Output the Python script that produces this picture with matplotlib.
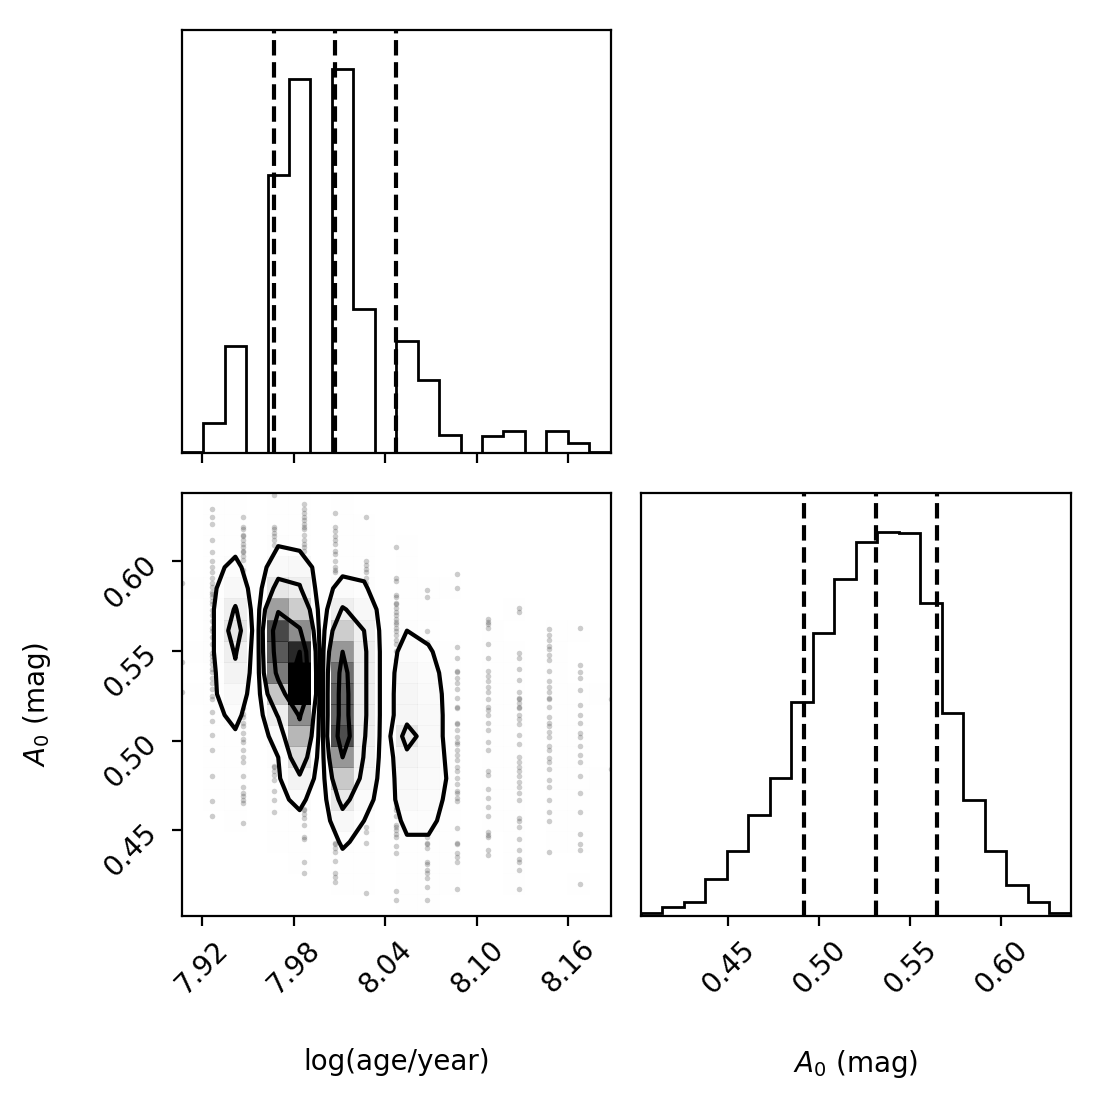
import numpy as np
import matplotlib
matplotlib.use("Agg")
import matplotlib.pyplot as plt
from matplotlib.colors import LinearSegmentedColormap

# sampled range of each parameter (= axis limits)
age_range = [7.9064, 8.1877]
a0_range = [0.4022, 0.6380]

age_ticks = [7.92, 7.98, 8.04, 8.10, 8.16]
a0_ticks = [0.45, 0.50, 0.55, 0.60]

# 1d histograms, 20 bins each
age_counts = [2, 40, 140, 0, 361, 487, 0, 500, 187, 0,
              146, 95, 24, 0, 22, 29, 0, 29, 14, 2]
a0_counts = [2, 6, 9, 25, 44, 68, 93, 144, 191, 227,
             252, 259, 258, 211, 137, 78, 44, 21, 9, 2]

# 16 / 50 / 84 percent quantiles
age_quantiles = [7.9667, 8.0069, 8.0471]
a0_quantiles = [0.4918, 0.5311, 0.5646]

# log(age) grid values the samples sit on
age_grid = [7.9064, 7.9265, 7.9466, 7.9667, 7.9868, 8.0069, 8.0270, 8.0471,
            8.0671, 8.0872, 8.1073, 8.1274, 8.1475, 8.1676, 8.1877]

# visible sample points (A0) for each age grid value
dots_k00 = [0.588, 0.544, 0.527]
dots_k01 = [0.629, 0.625, 0.621, 0.612, 0.605, 0.600, 0.597, 0.594, 0.591, 0.588,
            0.586, 0.583, 0.582, 0.580, 0.578, 0.576, 0.573, 0.570, 0.567, 0.563,
            0.561, 0.558, 0.554, 0.549, 0.547, 0.545, 0.543, 0.540, 0.538, 0.535,
            0.532, 0.529, 0.525, 0.523, 0.516, 0.511, 0.503, 0.495, 0.480, 0.466, 0.458]
dots_k02 = [0.625, 0.619, 0.618, 0.615, 0.614, 0.612, 0.610, 0.608, 0.606, 0.605,
            0.603, 0.601, 0.595, 0.590, 0.585, 0.580, 0.575, 0.570,
            0.524, 0.521, 0.518, 0.515, 0.513, 0.510, 0.508, 0.504, 0.501, 0.499,
            0.495, 0.491, 0.488, 0.480, 0.474, 0.471, 0.469, 0.467, 0.465, 0.454]
dots_k03 = [0.637, 0.619, 0.618, 0.616, 0.614, 0.612, 0.609, 0.486, 0.485, 0.483,
            0.481, 0.478, 0.472, 0.467, 0.460]
dots_k04 = [0.632, 0.629, 0.627, 0.625, 0.623, 0.621, 0.619, 0.618, 0.615, 0.612,
            0.610, 0.608, 0.606, 0.462, 0.461, 0.459, 0.457, 0.453, 0.446, 0.445,
            0.432, 0.426]
dots_k05 = [0.627, 0.619, 0.617, 0.614, 0.612, 0.610, 0.606, 0.604, 0.600, 0.597,
            0.595, 0.594, 0.443, 0.442, 0.440, 0.438, 0.433, 0.426, 0.424, 0.421]
dots_k06 = [0.625, 0.600, 0.598, 0.596, 0.594, 0.591, 0.588, 0.584, 0.580, 0.577,
            0.475, 0.471, 0.467, 0.463, 0.460, 0.452, 0.449, 0.443, 0.415]
dots_k07 = [0.608, 0.591, 0.589, 0.581, 0.580, 0.577, 0.576, 0.574, 0.572, 0.570,
            0.568, 0.566, 0.565, 0.563, 0.561, 0.559, 0.556, 0.554, 0.550, 0.545,
            0.540, 0.535, 0.530, 0.525, 0.471, 0.469, 0.467, 0.465, 0.463, 0.461,
            0.458, 0.453, 0.452, 0.450, 0.448, 0.446, 0.441, 0.437, 0.416, 0.411]
dots_k08 = [0.584, 0.580, 0.561, 0.555, 0.553, 0.552, 0.549, 0.446, 0.443, 0.442,
            0.440, 0.432, 0.431, 0.428, 0.426, 0.423, 0.418, 0.411]
dots_k09 = [0.593, 0.585, 0.552, 0.546, 0.539, 0.538, 0.535, 0.532, 0.529, 0.524,
            0.519, 0.518, 0.510, 0.509, 0.506, 0.502, 0.499, 0.498, 0.495, 0.492,
            0.489, 0.485, 0.483, 0.479, 0.476, 0.472, 0.471, 0.468, 0.466, 0.451,
            0.443, 0.442, 0.437, 0.435, 0.432, 0.417]
dots_k10 = [0.568, 0.566, 0.565, 0.563, 0.554, 0.546, 0.539, 0.536, 0.533, 0.530,
            0.527, 0.523, 0.519, 0.517, 0.514, 0.510, 0.506, 0.499, 0.495, 0.483,
            0.481, 0.473, 0.468, 0.463, 0.458, 0.449, 0.447, 0.446, 0.439, 0.436]
dots_k11 = [0.574, 0.572, 0.549, 0.546, 0.540, 0.534, 0.527, 0.524, 0.523, 0.521,
            0.519, 0.518, 0.514, 0.512, 0.509, 0.503, 0.498, 0.491, 0.488, 0.485,
            0.483, 0.480, 0.477, 0.474, 0.471, 0.467, 0.457, 0.455, 0.452, 0.445,
            0.439, 0.434, 0.432, 0.428, 0.417]
dots_k12 = [0.562, 0.559, 0.556, 0.553, 0.551, 0.548, 0.545, 0.539, 0.533, 0.530,
            0.527, 0.524, 0.523, 0.519, 0.513, 0.510, 0.508, 0.505, 0.502, 0.497,
            0.495, 0.490, 0.488, 0.484, 0.478, 0.474, 0.467, 0.460, 0.455, 0.438]
dots_k13 = [0.563, 0.542, 0.538, 0.535, 0.528, 0.520, 0.514, 0.510, 0.504, 0.502,
            0.497, 0.492, 0.488, 0.480, 0.471, 0.460, 0.448, 0.442, 0.439, 0.420]
dots_k14 = [0.523, 0.484]

# 2d histogram: counts in each A0 bin (low -> high) for the non-empty age bins
h2d_c00 = [0, 0, 0, 0, 0, 0, 0, 0, 0, 0, 1, 0, 1, 0, 0, 1, 0, 0, 0, 0]
h2d_c01 = [0, 0, 0, 0, 0, 1, 2, 2, 2, 3, 4, 4, 5, 5, 5, 4, 3, 2, 2, 1]
h2d_c02 = [0, 0, 0, 0, 1, 2, 3, 4, 4, 7, 11, 15, 18, 23, 18, 12, 7, 3, 2, 1]
h2d_c04 = [0, 0, 0, 1, 2, 3, 4, 5, 9, 18, 34, 52, 58, 61, 44, 22, 11, 5, 3, 2]
h2d_c05 = [0, 0, 1, 2, 3, 7, 15, 26, 38, 48, 72, 72, 66, 48, 32, 18, 12, 3, 2, 2]
h2d_c07 = [0, 1, 3, 6, 12, 21, 33, 46, 60, 56, 56, 54, 46, 32, 18, 9, 2, 1, 1, 1]
h2d_c08 = [0, 1, 1, 3, 5, 9, 13, 16, 18, 19, 19, 19, 19, 17, 12, 6, 3, 2, 1, 0]
h2d_c10 = [1, 2, 3, 4, 7, 11, 12, 14, 22, 13, 13, 12, 9, 5, 3, 2, 1, 1, 0, 0]
h2d_c11 = [1, 1, 2, 4, 7, 9, 10, 11, 11, 11, 10, 9, 6, 3, 2, 1, 0, 0, 0, 0]
h2d_c12 = [0, 1, 2, 3, 2, 3, 4, 3, 2, 2, 2, 1, 1, 0, 0, 1, 0, 0, 0, 0]
h2d_c14 = [0, 0, 0, 0, 2, 2, 3, 3, 2, 3, 2, 2, 1, 2, 0, 0, 0, 0, 0, 0]
h2d_c15 = [0, 1, 2, 2, 2, 3, 4, 4, 3, 3, 2, 1, 1, 0, 1, 0, 0, 0, 0, 0]
h2d_c17 = [0, 0, 0, 1, 2, 3, 4, 4, 4, 3, 3, 2, 2, 1, 0, 0, 0, 0, 0, 0]
h2d_c18 = [0, 1, 0, 1, 1, 2, 2, 2, 2, 1, 1, 0, 0, 1, 0, 0, 0, 0, 0, 0]
h2d_c19 = [0, 0, 0, 0, 0, 0, 1, 0, 0, 0, 1, 0, 0, 0, 0, 0, 0, 0, 0, 0]

nbins = 20
age_edges = np.linspace(age_range[0], age_range[1], nbins + 1)
a0_edges = np.linspace(a0_range[0], a0_range[1], nbins + 1)
age_centers = 0.5 * (age_edges[1:] + age_edges[:-1])
a0_centers = 0.5 * (a0_edges[1:] + a0_edges[:-1])

H = np.zeros((nbins, nbins))
for i, col in [(0, h2d_c00), (1, h2d_c01), (2, h2d_c02), (4, h2d_c04), (5, h2d_c05),
               (7, h2d_c07), (8, h2d_c08), (10, h2d_c10), (11, h2d_c11), (12, h2d_c12),
               (14, h2d_c14), (15, h2d_c15), (17, h2d_c17), (18, h2d_c18), (19, h2d_c19)]:
    H[i] = col

dot_cols = [dots_k00, dots_k01, dots_k02, dots_k03, dots_k04, dots_k05, dots_k06,
            dots_k07, dots_k08, dots_k09, dots_k10, dots_k11, dots_k12, dots_k13, dots_k14]
dot_x = np.concatenate([np.full(len(d), age_grid[k]) for k, d in enumerate(dot_cols)])
dot_y = np.concatenate([np.array(d) for d in dot_cols])

# contour levels enclosing 0.5, 1, 1.5, 2 sigma of the mass
levels = 1.0 - np.exp(-0.5 * np.arange(0.5, 2.1, 0.5) ** 2)
Hflat = np.sort(H.flatten())[::-1]
sm = np.cumsum(Hflat)
sm /= sm[-1]
V = np.empty(len(levels))
for i, v0 in enumerate(levels):
    try:
        V[i] = Hflat[sm <= v0][-1]
    except IndexError:
        V[i] = Hflat[0]
V.sort()

# pad the histogram so contours close at the edges
H2 = H.min() + np.zeros((nbins + 4, nbins + 4))
H2[2:-2, 2:-2] = H
H2[2:-2, 1] = H[:, 0]
H2[2:-2, -2] = H[:, -1]
H2[1, 2:-2] = H[0]
H2[-2, 2:-2] = H[-1]
H2[1, 1] = H[0, 0]
H2[1, -2] = H[0, -1]
H2[-2, 1] = H[-1, 0]
H2[-2, -2] = H[-1, -1]
dx = age_centers[1] - age_centers[0]
dy = a0_centers[1] - a0_centers[0]
X2 = np.concatenate([age_centers[0] + np.array([-2, -1]) * dx, age_centers,
                     age_centers[-1] + np.array([1, 2]) * dx])
Y2 = np.concatenate([a0_centers[0] + np.array([-2, -1]) * dy, a0_centers,
                     a0_centers[-1] + np.array([1, 2]) * dy])

fig = plt.figure(figsize=(5.5, 5.5), dpi=200)
ax_top = fig.add_axes([0.1652, 0.5879, 0.3900, 0.3848])
ax_2d = fig.add_axes([0.1652, 0.1675, 0.3900, 0.3840])
ax_r = fig.add_axes([0.5825, 0.1675, 0.3909, 0.3840])

# top: log(age) marginal
ax_top.hist(age_centers, bins=age_edges, weights=age_counts, histtype="step", color="k")
for q in age_quantiles:
    ax_top.axvline(q, ls="dashed", color="k")
ax_top.set_xlim(age_range)
ax_top.set_ylim(0, 1.1 * max(age_counts))
ax_top.set_yticks([])
ax_top.set_xticks(age_ticks)
ax_top.set_xticklabels([])

# bottom left: 2d
white_cmap = LinearSegmentedColormap.from_list("white_cmap", [(1, 1, 1), (1, 1, 1)], N=2)
density_cmap = LinearSegmentedColormap.from_list("density_cmap", ["k", (1, 1, 1, 0)])
ax_2d.plot(dot_x, dot_y, "o", color="k", ms=2.0, mec="none", alpha=0.2,
           zorder=-1, rasterized=True)
ax_2d.contourf(X2, Y2, H2.T, [V.min(), H.max()], cmap=white_cmap, antialiased=False)
ax_2d.pcolor(age_edges, a0_edges, H.max() - H.T, cmap=density_cmap)
ax_2d.contour(X2, Y2, H2.T, V, colors="k")
ax_2d.set_xlim(age_range)
ax_2d.set_ylim(a0_range)
ax_2d.set_xticks(age_ticks)
ax_2d.set_xticklabels(["%.2f" % t for t in age_ticks], rotation=45)
ax_2d.set_yticks(a0_ticks)
ax_2d.set_yticklabels(["%.2f" % t for t in a0_ticks], rotation=45)
ax_2d.set_xlabel("log(age/year)")
ax_2d.xaxis.set_label_coords(0.5, -0.312)
ax_2d.set_ylabel("$A_0$ (mag)")
ax_2d.yaxis.set_label_coords(-0.3, 0.5)

# bottom right: A0 marginal
ax_r.hist(a0_centers, bins=a0_edges, weights=a0_counts, histtype="step", color="k")
for q in a0_quantiles:
    ax_r.axvline(q, ls="dashed", color="k")
ax_r.set_xlim(a0_range)
ax_r.set_ylim(0, 1.1 * max(a0_counts))
ax_r.set_yticks([])
ax_r.set_xticks(a0_ticks)
ax_r.set_xticklabels(["%.2f" % t for t in a0_ticks], rotation=45)
ax_r.set_xlabel("$A_0$ (mag)")
ax_r.xaxis.set_label_coords(0.5, -0.312)

fig.savefig("out.png", dpi=200)
